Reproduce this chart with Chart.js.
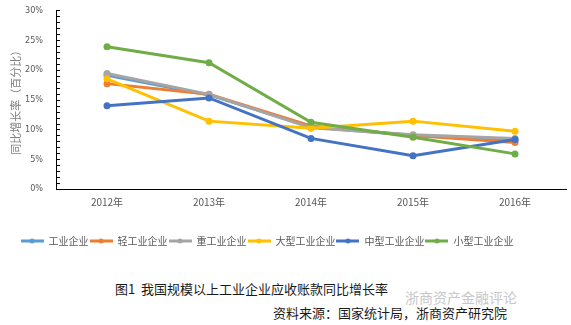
<!DOCTYPE html>
<html>
<head>
<meta charset="utf-8">
<script src="https://cdn.jsdelivr.net/npm/chart.js@4.4.1/dist/chart.umd.min.js"></script>
<style>
  body{margin:0;background:#fff;font-family:"Noto Sans CJK SC",sans-serif;}
  #wrap{position:relative;width:571px;height:325px;overflow:hidden;}
  #chartBox{position:absolute;left:0;top:0;width:571px;height:262px;}
  .txt{position:absolute;white-space:nowrap;font-size:13px;color:#1a1a1a;line-height:16px;}
</style>
</head>
<body>
<div id="wrap">
  <div id="chartBox"><canvas id="myChart"></canvas></div>
  <div class="txt" id="cap1" style="left:115px;top:281px;">图1&nbsp;&nbsp;我国规模以上工业企业应收账款同比增长率</div>
  <div class="txt" style="left:405px;top:289px;color:#c8c8c8;font-size:14px;">浙商资产金融评论</div>
  <div class="txt" style="left:273px;top:305px;">资料来源：国家统计局，浙商资产研究院</div>
</div>
<script>
'use strict';
let years=['2012年','2013年','2014年','2015年','2016年'];
let seriesNames=['工业企业','轻工业企业','重工业企业','大型工业企业','中型工业企业','小型工业企业'];
let seriesColors=['#5b9bd5','#ed7d31','#a5a5a5','#ffc000','#4472c4','#70ad47'];
let gongye=[19.1,15.8,10.4,9.0,8.2];
let qinggongye=[17.7,15.9,10.6,9.0,7.8];
let zhonggongye=[19.4,15.9,10.3,9.1,8.5];
let daxing=[18.5,11.4,10.2,11.4,9.7];
let zhongxing=[14.0,15.3,8.5,5.6,8.3];
let xiaoxing=[23.9,21.2,11.2,8.7,5.9];
let yTicks=[0,5,10,15,20,25,30];
let allSeries=[gongye,qinggongye,zhonggongye,daxing,zhongxing,xiaoxing];

// little legend icon: line with a dot
function legendIcon(color){
    let c=document.createElement('canvas');
    c.width=23;c.height=8;
    let g=c.getContext('2d');
    g.strokeStyle=color;g.lineWidth=3;
    g.beginPath();g.moveTo(0,4);g.lineTo(23,4);g.stroke();
    g.fillStyle=color;
    g.beginPath();g.arc(11.5,4,2.5,0,Math.PI*2);g.fill();
    return c;
}

let datasets=[];
for(let i=0;i<allSeries.length;i++){
    datasets.push({
        label:seriesNames[i],
        data:allSeries[i],
        borderColor:seriesColors[i],
        backgroundColor:seriesColors[i],
        borderWidth:3,
        pointRadius:3.5,
        pointHoverRadius:3.5,
        pointBorderWidth:0,
        tension:0,
        order:allSeries.length-i
    });
}

// minor ticks on y axis (every 1%), legend nudged left like the original
let axisExtras={
    id:'axisExtras',
    afterLayout(chart){
        chart.legend.right-=32;
    },
    afterDraw(chart){
        let y=chart.scales.y;
        let ctx=chart.ctx;
        ctx.save();
        ctx.strokeStyle='#000';
        ctx.lineWidth=1;
        for(let v=0;v<=30;v++){
            let py=Math.round(y.getPixelForValue(v))+0.5;
            ctx.beginPath();
            ctx.moveTo(y.right,py);
            ctx.lineTo(y.right+4,py);
            ctx.stroke();
        }
        ctx.restore();
    }
};

let ctx=document.getElementById('myChart').getContext('2d');
let chart=new Chart(ctx,{
    type:'line',
    data:{labels:years,datasets:datasets},
    plugins:[axisExtras],
    options:{
        responsive:true,
        maintainAspectRatio:false,
        animation:false,
        layout:{padding:{top:6,right:5,left:0,bottom:6}},
        plugins:{
            tooltip:{enabled:false},
            legend:{
                position:'bottom',
                labels:{
                    usePointStyle:true,
                    pointStyleWidth:23,
                    padding:1,
                    color:'#595959',
                    font:{family:'"Noto Sans CJK SC"',size:10},
                    generateLabels(ch){
                        return ch.data.datasets.map(function(ds,i){
                            return {text:ds.label,pointStyle:legendIcon(ds.borderColor),
                                fillStyle:ds.borderColor,strokeStyle:ds.borderColor,
                                lineWidth:0,hidden:false,datasetIndex:i,fontColor:'#595959'};
                        });
                    }
                }
            }
        },
        scales:{
            x:{
                offset:true,
                grid:{display:false,drawTicks:false},
                border:{display:true,color:'#000',width:1},
                ticks:{color:'#595959',font:{family:'"Noto Sans CJK SC"',size:10},padding:7,maxRotation:0},
                afterFit(scale){scale.height=46;}
            },
            y:{
                min:0,max:30,
                afterBuildTicks(scale){scale.ticks=yTicks.map(function(v){return {value:v};});},
                grid:{display:false},
                border:{display:true,color:'#000',width:1},
                ticks:{color:'#595959',font:{family:'"DejaVu Sans Condensed"',size:9},padding:5,
                    callback:function(v){return v+'%';}},
                title:{display:true,text:'同比增长率（百分比）',color:'#7f7f7f',
                    font:{family:'"Noto Sans CJK SC"',size:11},padding:{top:9,bottom:0}},
                afterFit(scale){scale.width=56;}
            }
        }
    }
});
</script>
</body>
</html>
